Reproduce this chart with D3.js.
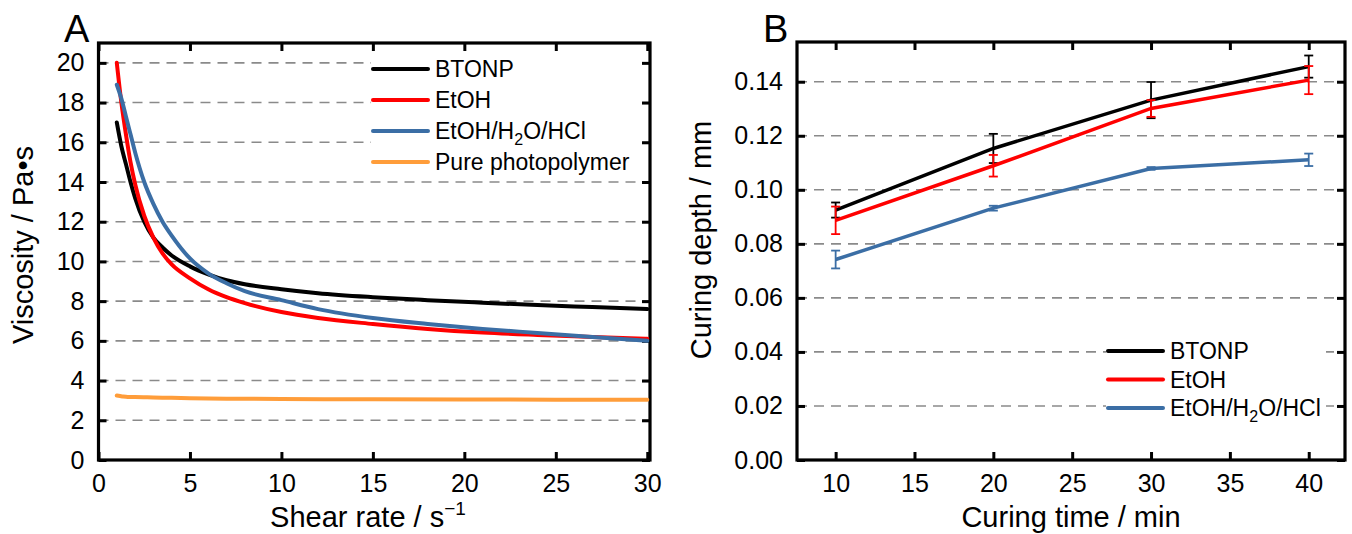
<!DOCTYPE html>
<html>
<head>
<meta charset="utf-8">
<script src="https://cdn.jsdelivr.net/npm/d3@7"></script>
<style>
  body { margin: 0; background: #fff; }
  svg text { font-family: "Liberation Sans", Arial, sans-serif; fill: #000; }
</style>
</head>
<body>
<svg id="chart" width="1352" height="534"></svg>
<script>
// ---- panel A data: viscosity vs shear rate ----
var shearRate = [1, 1.25, 1.5, 1.75, 2, 2.5, 3, 3.5, 4, 5, 6, 7, 8, 10, 12, 15, 18, 21, 24, 27, 30];
var viscBTONP = [17.0, 15.8, 14.9, 14.0, 13.2, 12.0, 11.2, 10.7, 10.3, 9.75, 9.35, 9.05, 8.85, 8.6, 8.4, 8.2, 8.05, 7.92, 7.8, 7.7, 7.6];
var viscEtOH  = [20.0, 18.0, 16.4, 15.0, 13.9, 12.3, 11.2, 10.4, 9.85, 9.15, 8.6, 8.2, 7.9, 7.45, 7.15, 6.85, 6.6, 6.42, 6.3, 6.2, 6.1];
var viscAcid  = [18.9, 18.2, 17.3, 16.4, 15.5, 14.0, 12.9, 12.0, 11.3, 10.15, 9.4, 8.9, 8.5, 8.05, 7.6, 7.15, 6.85, 6.6, 6.4, 6.2, 6.0];
var shearRatePure = [1, 1.3, 1.6, 2, 3, 4, 5, 7, 10, 15, 20, 25, 30];
var viscPure  = [3.25, 3.2, 3.17, 3.17, 3.15, 3.13, 3.11, 3.09, 3.07, 3.06, 3.05, 3.04, 3.03];
var xTicksA = [0, 5, 10, 15, 20, 25, 30];
var yTicksA = [0, 2, 4, 6, 8, 10, 12, 14, 16, 18, 20];

// ---- panel B data: curing depth vs curing time ----
var curingTime = [10, 20, 30, 40];
var depthBTONP = [0.0925, 0.1153, 0.1332, 0.1456];
var errBTONP   = [0.0028, 0.0054, 0.0067, 0.0041];
var depthEtOH  = [0.0887, 0.1089, 0.1301, 0.1406];
var errEtOH    = [0.0051, 0.0040, 0.0031, 0.0052];
var depthAcid  = [0.0742, 0.0932, 0.1079, 0.1111];
var errAcid    = [0.0033, 0.0009, 0.0005, 0.0023];
var xTicksB = [10, 15, 20, 25, 30, 35, 40];
var yTicksB = [0, 0.02, 0.04, 0.06, 0.08, 0.10, 0.12, 0.14];

var colBlack = "#000000", colRed = "#ff0000", colBlue = "#3b6ea5", colOrange = "#ff9d3a";

var svg = d3.select("#chart");

function frame(g, x, y, xt, yt, fmt) {
  var r = x.range(), b = y.range();
  // dashed grid
  g.append("g").selectAll("line").data(yt.filter(function(d){ return d > 0; })).enter()
    .append("line").attr("x1", r[0]).attr("x2", r[1])
    .attr("y1", function(d){ return y(d); }).attr("y2", function(d){ return y(d); })
    .attr("stroke", "#8a8a8a").attr("stroke-width", 1.6).attr("stroke-dasharray", "10,7");
  // axes with inward ticks on all sides
  var ax = [
    [d3.axisBottom(x).tickValues(xt).tickSizeInner(-8).tickSizeOuter(0).tickPadding(14), "translate(0," + b[0] + ")", true],
    [d3.axisTop(x).tickValues(xt).tickSizeInner(-8).tickSizeOuter(0), "translate(0," + b[1] + ")", false],
    [d3.axisLeft(y).tickValues(yt).tickSizeInner(-8).tickSizeOuter(0).tickPadding(14).tickFormat(fmt), "translate(" + r[0] + ",0)", true],
    [d3.axisRight(y).tickValues(yt).tickSizeInner(-8).tickSizeOuter(0), "translate(" + r[1] + ",0)", false]
  ];
  ax.forEach(function(a) {
    var ag = g.append("g").attr("transform", a[1]).call(a[0]);
    ag.select(".domain").remove();
    ag.selectAll(".tick line").attr("stroke", "#000").attr("stroke-width", 3);
    if (a[2]) ag.selectAll(".tick text").style("font-size", "25px").attr("fill", "#000");
    else ag.selectAll(".tick text").remove();
  });
  g.append("rect").attr("x", r[0]).attr("y", b[1]).attr("width", r[1] - r[0]).attr("height", b[0] - b[1])
    .attr("fill", "none").attr("stroke", "#000").attr("stroke-width", 3.2);
}

function legend(g, items, x0, y0, dy, bw) {
  var lg = g.append("g");
  lg.append("rect").attr("x", x0 - 2).attr("y", y0 - dy / 2).attr("width", bw).attr("height", dy * items.length)
    .attr("fill", "#fff");
  items.forEach(function(it, i) {
    var yy = y0 + i * dy;
    lg.append("line").attr("x1", x0).attr("x2", x0 + 55).attr("y1", yy).attr("y2", yy)
      .attr("stroke", it.c).attr("stroke-width", 4).attr("stroke-linecap", "round");
    var t = lg.append("text").attr("x", x0 + 62).attr("y", yy + 8).style("font-size", "23px");
    it.t.forEach(function(p) {
      var s = t.append("tspan").text(p[0]);
      if (p[1] === "sub") s.style("font-size", "16px").attr("dy", 6);
      if (p[1] === "back") s.attr("dy", -6);
    });
  });
}

// ================= Panel A =================
var xA = d3.scaleLinear().domain([0, 30.15]).range([98.5, 650]);
var yA = d3.scaleLinear().domain([0, 21]).range([460, 43]);
var gA = svg.append("g");
frame(gA, xA, yA, xTicksA, yTicksA, d3.format("d"));

var lineA = function(xs) {
  return d3.line().x(function(d, i){ return xA(xs[i]); }).y(function(d){ return yA(d); }).curve(d3.curveMonotoneX);
};
[[viscBTONP, colBlack], [viscEtOH, colRed], [viscAcid, colBlue]].forEach(function(s) {
  gA.append("path").attr("d", lineA(shearRate)(s[0])).attr("fill", "none")
    .attr("stroke", s[1]).attr("stroke-width", 4).attr("stroke-linecap", "round");
});
gA.append("path").attr("d", lineA(shearRatePure)(viscPure)).attr("fill", "none")
  .attr("stroke", colOrange).attr("stroke-width", 4).attr("stroke-linecap", "round");

legend(gA, [
  {c: colBlack, t: [["BTONP"]]},
  {c: colRed, t: [["EtOH"]]},
  {c: colBlue, t: [["EtOH/H"], ["2", "sub"], ["O/HCl", "back"]]},
  {c: colOrange, t: [["Pure photopolymer"]]}
], 373, 69, 31, 266);

gA.append("text").attr("x", 64).attr("y", 42).style("font-size", "38px").text("A");
gA.append("text").attr("transform", "translate(33,245) rotate(-90)").attr("text-anchor", "middle")
  .style("font-size", "29px").text("Viscosity / Pa\u2022s");
var tA = gA.append("text").attr("x", 368).attr("y", 527).attr("text-anchor", "middle").style("font-size", "29px");
tA.append("tspan").text("Shear rate / s");
tA.append("tspan").attr("dy", -12).style("font-size", "19px").text("\u22121");

// ================= Panel B =================
var xB = d3.scaleLinear().domain([7.55, 42.3]).range([797, 1345]);
var yB = d3.scaleLinear().domain([0, 0.1547]).range([460, 42]);
var gB = svg.append("g");
frame(gB, xB, yB, xTicksB, yTicksB, d3.format(".2f"));

var lineB = d3.line().x(function(d, i){ return xB(curingTime[i]); }).y(function(d){ return yB(d); });
[[depthBTONP, errBTONP, colBlack], [depthEtOH, errEtOH, colRed], [depthAcid, errAcid, colBlue]].forEach(function(s) {
  gB.append("path").attr("d", lineB(s[0])).attr("fill", "none").attr("stroke", s[2]).attr("stroke-width", 3.5);
  var eg = gB.append("g").attr("stroke", s[2]).attr("stroke-width", 1.8);
  s[0].forEach(function(v, i) {
    var cx = xB(curingTime[i]), lo = yB(v - s[1][i]), hi = yB(v + s[1][i]);
    eg.append("line").attr("x1", cx).attr("x2", cx).attr("y1", lo).attr("y2", hi);
    eg.append("line").attr("x1", cx - 4.5).attr("x2", cx + 4.5).attr("y1", lo).attr("y2", lo);
    eg.append("line").attr("x1", cx - 4.5).attr("x2", cx + 4.5).attr("y1", hi).attr("y2", hi);
  });
});

legend(gB, [
  {c: colBlack, t: [["BTONP"]]},
  {c: colRed, t: [["EtOH"]]},
  {c: colBlue, t: [["EtOH/H"], ["2", "sub"], ["O/HCl", "back"]]}
], 1108, 351, 28.5, 220);

gB.append("text").attr("x", 763).attr("y", 42).style("font-size", "38px").text("B");
gB.append("text").attr("transform", "translate(711,240) rotate(-90)").attr("text-anchor", "middle")
  .style("font-size", "29px").text("Curing depth / mm");
gB.append("text").attr("x", 1071).attr("y", 527).attr("text-anchor", "middle").style("font-size", "29px")
  .text("Curing time / min");
</script>
</body>
</html>
